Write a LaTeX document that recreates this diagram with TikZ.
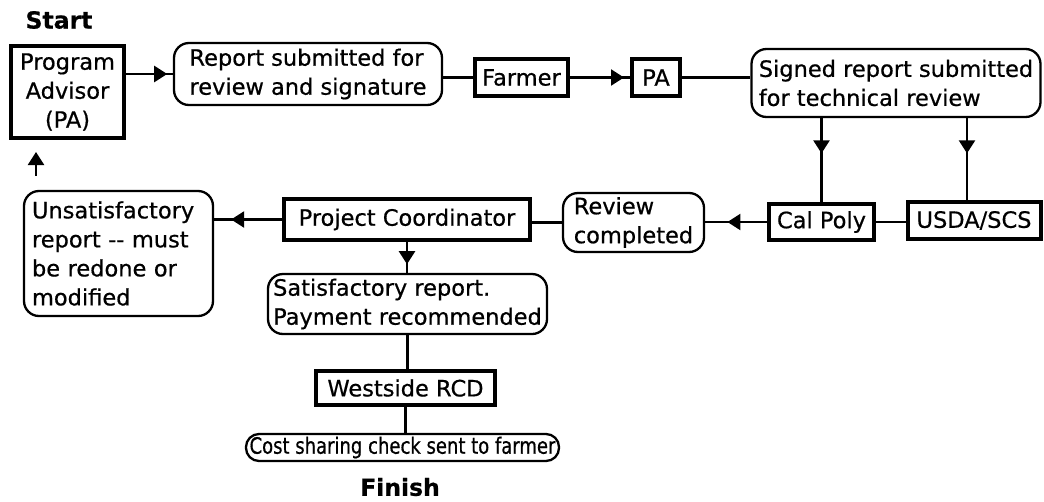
\documentclass[tikz,border=0pt]{standalone}
\usepackage{fontspec}
\setmainfont{DejaVu Sans}[FakeBold=0.6]
\newfontfamily\narrowfont{DejaVu Sans}[FakeStretch=0.8, FakeBold=0.6]
\usetikzlibrary{arrows.meta,decorations.markings}

\tikzset{
  txt/.style={font=\fontsize{22.5}{29}\selectfont},
  heavybox/.style={txt, draw, line width=4pt, inner sep=0pt, align=center},
  softbox/.style={txt, draw, line width=2.3pt, rounded corners=15pt, inner sep=0pt, align=left},
  link/.style={line width=2.3pt},
  tip/.style={-{Triangle[width=16pt,length=13pt]}},
  flow/.style={link, postaction={decorate},
    decoration={markings, mark=at position #1 with {\arrow{Triangle[width=16pt,length=13pt]}}}},
  heading/.style={font=\fontsize{23.5}{28}\selectfont\bfseries},
}

\begin{document}
\begin{tikzpicture}[x=1pt, y=-1pt]
  \fill[white] (0,0) rectangle (1044,501);
  \useasboundingbox (0,0) rectangle (1044,501);

  % headings
  \node[heading] (start) at (59,20) {Start};
  \node[heading] (finish) at (400,487) {Finish};

  % top row
  \node[heavybox, minimum width=113pt, minimum height=92pt] (pa) at (67.5,92)
    {Program\\Advisor\\(PA)};
  \node[softbox, minimum width=268pt, minimum height=62pt] (report) at (308,74)
    {Report submitted for\\review and signature};
  \node[heavybox, minimum width=93pt, minimum height=37pt] (farmer) at (521.5,77.5) {Farmer};
  \node[heavybox, minimum width=48pt, minimum height=37pt] (pa2) at (656,77.5) {PA};
  \node[softbox, minimum width=289pt, minimum height=68pt] (signed) at (896,83)
    {Signed report submitted\\for technical review};

  % middle row
  \node[heavybox, minimum width=105pt, minimum height=36pt] (calpoly) at (821.5,222) {Cal Poly};
  \node[heavybox, minimum width=133pt, minimum height=37pt] (usda) at (974,220.5) {USDA/SCS};
  \node[softbox, minimum width=141pt, minimum height=59pt] (review) at (633.5,222.5)
    {Review\\completed};
  \node[heavybox, minimum width=246pt, minimum height=41pt] (pc) at (407,219.5)
    {Project Coordinator};
  \node[softbox, text width=173pt, minimum width=189pt, minimum height=125pt] (unsat) at (118.5,253.5)
    {Unsatisfactory\\report -{}- must\\be redone or\\modified};

  % bottom column
  \node[softbox, minimum width=279pt, minimum height=60pt] (satisf) at (407.5,304)
    {Satisfactory report.\\Payment recommended};
  \node[heavybox, minimum width=179pt, minimum height=34pt] (westside) at (405.5,388)
    {Westside RCD};
  \node[softbox, rounded corners=13pt, minimum width=313pt, minimum height=27pt,
        font=\fontsize{22.5}{29}\narrowfont] (cost) at (402.5,447.5)
    {Cost sharing check sent to farmer};

  % connectors
  \draw[flow=0.88] (report.west -| pa.east) -- (report.west);
  \draw[link] (farmer.west -| report.east) -- (farmer.west);
  \draw[flow=0.9] (farmer.east) -- (pa2.west);
  \draw[link] (pa2.east) -- (pa2.east -| signed.west);

  \draw[flow=0.42] (signed.south -| calpoly.north) -- (calpoly.north);
  \coordinate (usdatop) at ([xshift=-7pt]usda.north);
  \draw[flow=0.43] (signed.south -| usdatop) -- (usdatop);
  \draw[link] (calpoly.east) -- (calpoly.east -| usda.west);

  \draw[flow=0.64] (calpoly.west) -- (calpoly.west -| review.east);
  \draw[link] (review.west) -- (review.west -| pc.east);
  \draw[flow=0.75] (pc.west) -- (pc.west -| unsat.east);

  \coordinate (back) at ([xshift=-82.5pt]unsat.north);
  \draw[link, tip, shorten <=14pt, shorten >=12pt] (back) -- (back |- pa.south);

  \draw[flow=0.72] (pc.south) -- (pc.south |- satisf.north);
  \draw[link] (satisf.south) -- (satisf.south |- westside.north);
  \draw[link] (westside.south) -- (westside.south |- cost.north);
\end{tikzpicture}
\end{document}
